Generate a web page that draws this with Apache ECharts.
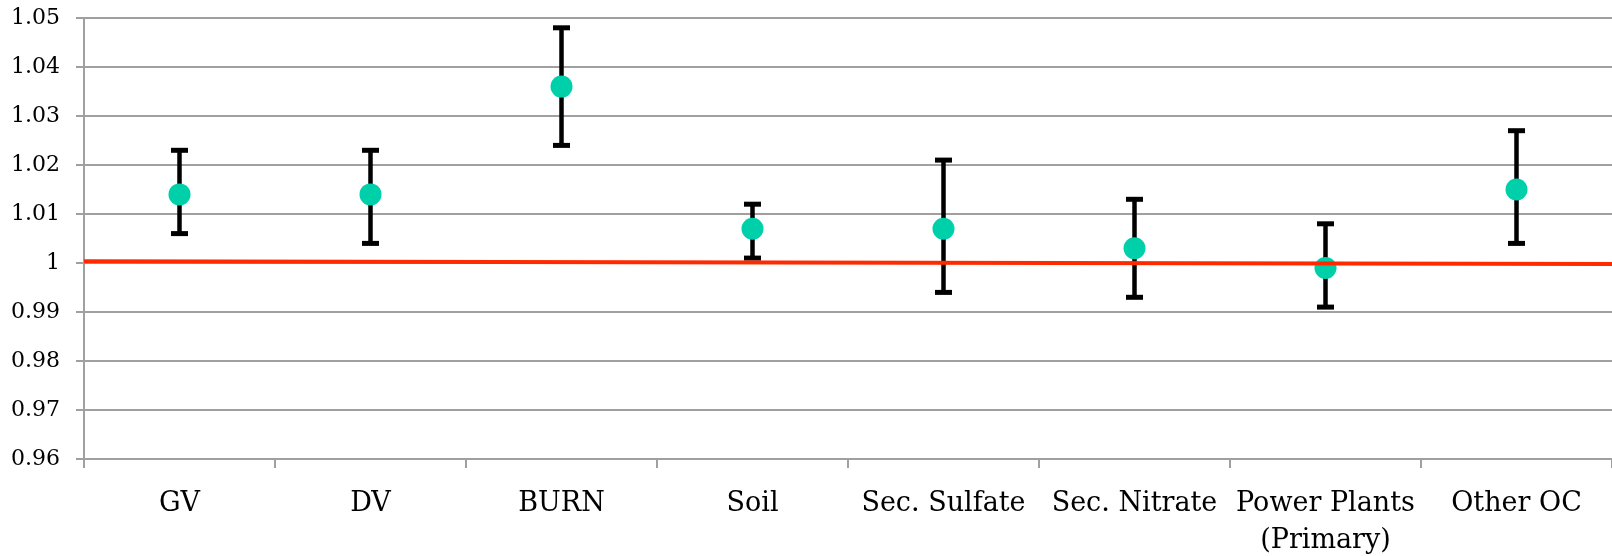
<!DOCTYPE html>
<html>
<head>
<meta charset="utf-8">
<script src="https://cdn.jsdelivr.net/npm/echarts@6/dist/echarts.min.js"></script>
<style>html,body{margin:0;padding:0;background:#fff;}#c{width:1612px;height:556px;}</style>
</head>
<body>
<div id="c"></div>
<script>
const categories = ['GV', 'DV', 'BURN', 'Soil', 'Sec. Sulfate', 'Sec. Nitrate', 'Power Plants\n(Primary)', 'Other OC'];
const pointValues = [1.014, 1.014, 1.036, 1.007, 1.007, 1.003, 0.999, 1.015];
const errLow =  [1.006, 1.004, 1.024, 1.001, 0.994, 0.993, 0.991, 1.004];
const errHigh = [1.023, 1.023, 1.048, 1.012, 1.021, 1.013, 1.008, 1.027];
const refLine = [[-0.5, 1.00035], [7.5, 0.99982]];
const yTicks = { min: 0.96, max: 1.05, interval: 0.01 };

const chart = echarts.init(document.getElementById('c'), null, { renderer: 'canvas' });
const gray = '#a0a0a0';
const serif = 'DejaVu Serif';

chart.setOption({
  animation: false,
  backgroundColor: '#fff',
  grid: { left: 84, right: 0, top: 18, bottom: 97, containLabel: false, outerBoundsMode: 'none' },
  xAxis: [
    {
      type: 'category',
      data: categories,
      boundaryGap: true,
      axisLine: { show: true, onZero: false, lineStyle: { color: gray, width: 2 } },
      axisTick: { show: true, length: 9, lineStyle: { color: gray, width: 2 }, interval: 0 },
      axisLabel: { interval: 0, fontFamily: serif, fontSize: 27, color: '#000', margin: 26, lineHeight: 37 },
      splitLine: { show: false }
    },
    {
      type: 'value', min: -0.5, max: 7.5, show: false,
      axisLine: { onZero: false }
    }
  ],
  yAxis: {
    type: 'value',
    min: yTicks.min, max: yTicks.max, interval: yTicks.interval,
    axisLine: { show: true, onZero: false, lineStyle: { color: gray, width: 2 } },
    axisTick: { show: true, length: 8, lineStyle: { color: gray, width: 2 } },
    axisLabel: {
      fontFamily: serif, fontSize: 22, color: '#000', margin: 24,
      formatter: v => (Math.round(v * 100) / 100).toString()
    },
    splitLine: { show: true, lineStyle: { color: gray, width: 2 } }
  },
  series: [
    {
      type: 'custom',
      xAxisIndex: 0,
      z: 2,
      data: categories.map((c, i) => [i, errLow[i], errHigh[i]]),
      renderItem: function (params, api) {
        const i = api.value(0);
        const lo = api.coord([i, api.value(1)]);
        const hi = api.coord([i, api.value(2)]);
        const half = 8.5;
        const st = { stroke: '#000', lineWidth: 4.5 };
        const cap = { stroke: '#000', lineWidth: 5 };
        return {
          type: 'group',
          children: [
            { type: 'line', shape: { x1: lo[0], y1: lo[1], x2: hi[0], y2: hi[1] }, style: st },
            { type: 'line', shape: { x1: hi[0] - half, y1: hi[1], x2: hi[0] + half, y2: hi[1] }, style: cap },
            { type: 'line', shape: { x1: lo[0] - half, y1: lo[1], x2: lo[0] + half, y2: lo[1] }, style: cap }
          ]
        };
      },
      encode: { x: 0, y: [1, 2] }
    },
    {
      type: 'scatter',
      xAxisIndex: 0,
      z: 3,
      symbol: 'circle',
      symbolSize: 22,
      itemStyle: { color: '#00D0AA', opacity: 1 },
      data: pointValues
    },
    {
      type: 'line',
      xAxisIndex: 1,
      z: 4,
      symbol: 'none',
      lineStyle: { color: '#FF2A00', width: 4 },
      data: refLine
    }
  ]
});
</script>
</body>
</html>
